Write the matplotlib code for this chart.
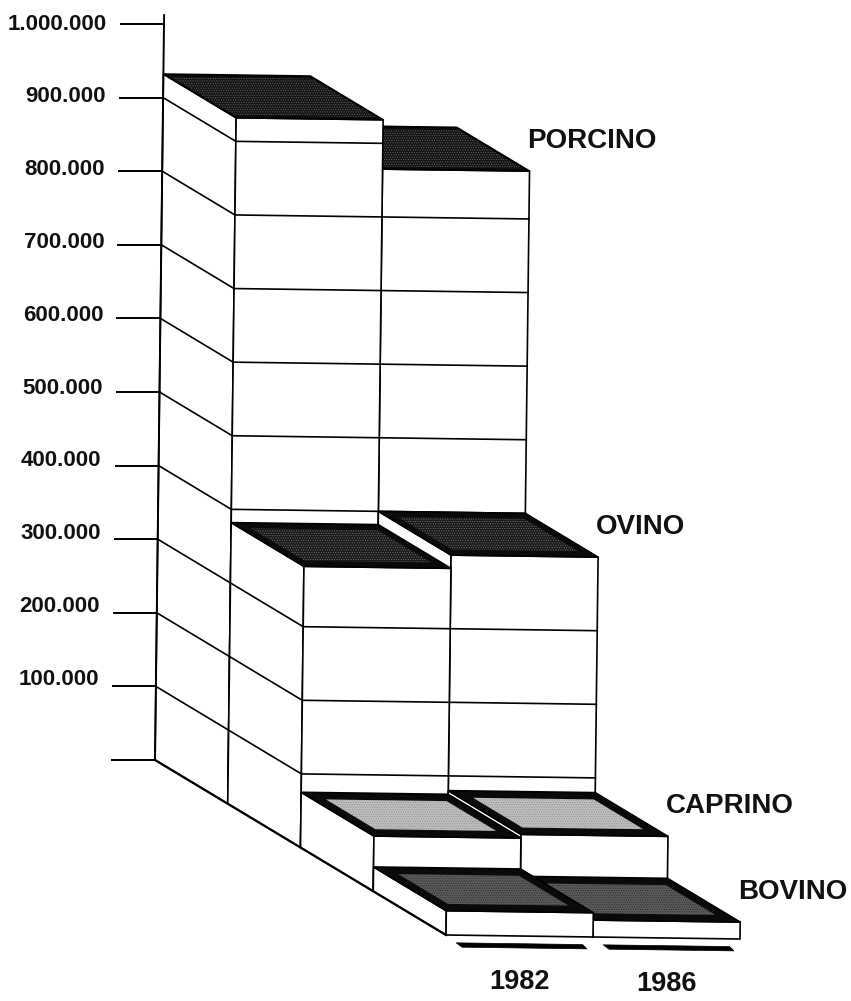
import matplotlib.pyplot as plt
from matplotlib.patches import Polygon

plt.rcParams['font.family'] = ['Liberation Sans', 'DejaVu Sans']
plt.rcParams['hatch.linewidth'] = 0.4

# values (head of livestock)
species = ['PORCINO', 'OVINO', 'CAPRINO', 'BOVINO']
years = ['1982', '1986']
values_1982 = [932000, 382000, 75000, 33000]
values_1986 = [865000, 400000, 80000, 23000]
tick_values = [0, 100000, 200000, 300000, 400000, 500000, 600000, 700000, 800000, 900000, 1000000]
tick_labels = ['', '100.000', '200.000', '300.000', '400.000', '500.000', '600.000', '700.000',
               '800.000', '900.000', '1.000.000']


def proj(year, depth, value):
    # oblique projection: year slot, species row, value -> picture position
    x = 155 + 147 * year + 72.75 * depth + 9 * value / 1e6
    y = 760 + 2 * year + 43.75 * depth - 736 * value / 1e6
    return x, y


fig = plt.figure(figsize=(8.51, 10.01), dpi=100)
ax = fig.add_axes([0, 0, 1, 1])
ax.set_xlim(0, 851)
ax.set_ylim(1001, 0)
ax.axis('off')

lw = 1.2

# look of the top of each block: inner colour, dots, inset across, inset along
tops = {
    'PORCINO': ('#141414', '#6e6e6e', 0.02, 0.06),
    'OVINO': ('#1a1a1a', '#7a7a7a', 0.07, 0.13),
    'CAPRINO': ('#bdbdbd', '#8a8a8a', 0.09, 0.16),
    'BOVINO': ('#5a5a5a', '#2a2a2a', 0.09, 0.16),
}

# painter's order: everything goes on top of what came before
z = [1]


def next_z():
    z[0] += 1
    return z[0]


def face(points, **kw):
    ax.add_patch(Polygon(points, closed=True, zorder=next_z(), **kw))


def draw_block(year, depth, value, name):
    # left side
    face([proj(year, depth, 0), proj(year, depth, value),
          proj(year, depth + 1, value), proj(year, depth + 1, 0)], fc='white', ec='black', lw=lw)
    # front
    face([proj(year, depth + 1, 0), proj(year, depth + 1, value),
          proj(year + 1, depth + 1, value), proj(year + 1, depth + 1, 0)], fc='white', ec='black', lw=lw)
    # gridlines round the block
    for v in tick_values[1:]:
        if v < value:
            line = [proj(year, depth, v), proj(year, depth + 1, v), proj(year + 1, depth + 1, v)]
            ax.plot([p[0] for p in line], [p[1] for p in line], color='black', lw=lw, zorder=next_z())
    # top
    inner, dots, du, dd = tops[name]
    face([proj(year, depth, value), proj(year + 1, depth, value),
          proj(year + 1, depth + 1, value), proj(year, depth + 1, value)], fc='#0a0a0a', ec='black', lw=lw)
    face([proj(year + du, depth + dd, value), proj(year + 1 - du, depth + dd, value),
          proj(year + 1 - du, depth + 1 - dd, value), proj(year + du, depth + 1 - dd, value)],
         fc=inner, ec=dots, lw=0, hatch='.......')


for d, name in enumerate(species):
    draw_block(1, d, values_1986[d], name)
    draw_block(0, d, values_1982[d], name)

# value axis, ticks and labels
top = proj(0, 0, 1012000)
base = proj(0, 0, 0)
ax.plot([base[0], top[0]], [base[1], top[1]], color='black', lw=1.4, zorder=next_z())
for v, lab in zip(tick_values, tick_labels):
    x, y = proj(0, 0, v)
    ax.plot([x - 43, x], [y, y], color='black', lw=1.4, zorder=next_z())
    ax.text(x - 57, y - 8 * (1 - v / 1e6), lab, ha='right', va='center',
            fontsize=16, fontweight='bold', color='#111111', zorder=next_z())

# floor edge
end = proj(0, 4, 0)
ax.plot([base[0], end[0]], [base[1], end[1]], color='black', lw=1.6, zorder=next_z())

# series names beside the last block of each row
for d, name in enumerate(species):
    x, y = proj(2, d + 1, values_1986[d])
    ax.text(x - 2, y - 30, name, ha='left', va='center', fontsize=20, fontweight='bold',
            color='#111111', zorder=next_z())

# year bars and labels under the front edge
for i, yr in enumerate(years):
    bar = [proj(i - 0.02, 4.18, 0), proj(i + 0.84, 4.18, 0), proj(i + 0.82, 4.28, 0), proj(i - 0.03, 4.28, 0)]
    face(bar, fc='black', ec='black', lw=0.5)
    x, y = proj(i + 0.5, 4, 0)
    ax.text(x, y + 46, yr, ha='center', va='center', fontsize=19.5, fontweight='bold',
            color='#111111', zorder=next_z())

fig.savefig('out.png', dpi=100)
